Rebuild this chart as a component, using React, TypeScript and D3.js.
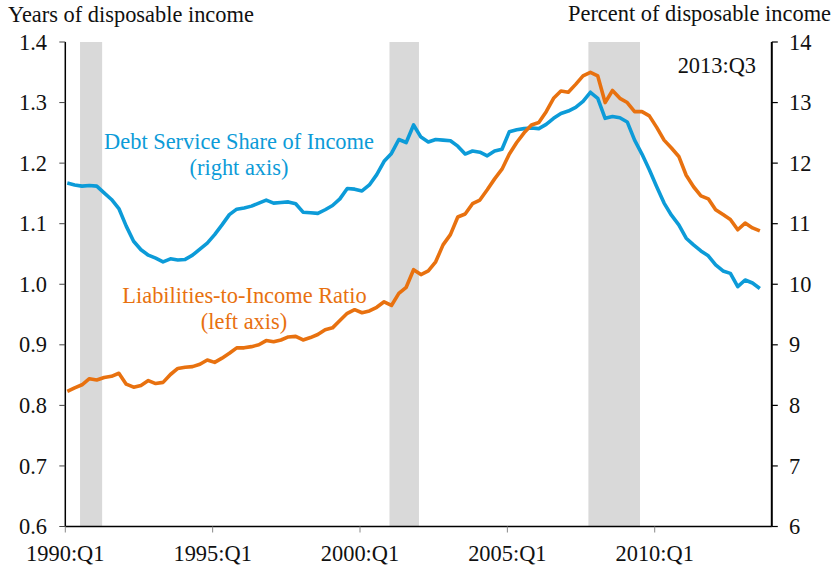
import React from "react";
import * as d3 from "d3";

// Quarterly data, 1990:Q1 .. 2013:Q3
const startYear = 1990;
const debtServiceShare = [
  11.67, 11.64, 11.62, 11.63, 11.62, 11.51, 11.40, 11.25, 10.96, 10.71,
  10.57, 10.48, 10.43, 10.37, 10.42, 10.40, 10.41, 10.48, 10.58, 10.68,
  10.82, 10.98, 11.15, 11.24, 11.26, 11.29, 11.34, 11.39, 11.34, 11.35,
  11.36, 11.33, 11.19, 11.18, 11.17, 11.23, 11.30, 11.41, 11.58, 11.57,
  11.54, 11.64, 11.81, 12.03, 12.16, 12.39, 12.34, 12.63, 12.43, 12.35,
  12.39, 12.38, 12.37, 12.28, 12.15, 12.20, 12.18, 12.12, 12.20, 12.23,
  12.52, 12.55, 12.57, 12.58, 12.57, 12.64, 12.74, 12.82, 12.86, 12.92,
  13.02, 13.17, 13.07, 12.74, 12.77, 12.75, 12.68, 12.38, 12.15, 11.89,
  11.61, 11.34, 11.14, 10.98, 10.76, 10.65, 10.55, 10.47, 10.32, 10.22,
  10.18, 9.96, 10.07, 10.02, 9.93,
];
const liabilitiesToIncome = [
  0.823, 0.829, 0.834, 0.844, 0.842, 0.846, 0.848, 0.853, 0.835, 0.830,
  0.833, 0.841, 0.836, 0.838, 0.851, 0.861, 0.863, 0.864, 0.868, 0.875,
  0.871, 0.878, 0.886, 0.895, 0.895, 0.897, 0.900, 0.907, 0.905, 0.908,
  0.913, 0.914, 0.908, 0.912, 0.917, 0.925, 0.928, 0.940, 0.952, 0.958,
  0.953, 0.956, 0.962, 0.971, 0.965, 0.985, 0.995, 1.024, 1.016, 1.022,
  1.037, 1.065, 1.082, 1.111, 1.116, 1.133, 1.139, 1.156, 1.174, 1.190,
  1.215, 1.234, 1.250, 1.263, 1.267, 1.285, 1.307, 1.319, 1.317, 1.330,
  1.344, 1.350, 1.344, 1.300, 1.320, 1.307, 1.300, 1.285, 1.285, 1.278,
  1.259, 1.238, 1.225, 1.211, 1.180, 1.161, 1.146, 1.141, 1.123, 1.115,
  1.107, 1.090, 1.101, 1.093, 1.088,
];
const xTickLabels = ["1990:Q1", "1995:Q1", "2000:Q1", "2005:Q1", "2010:Q1"];
const leftTicks = [0.6, 0.7, 0.8, 0.9, 1.0, 1.1, 1.2, 1.3, 1.4];
const rightTicks = [6, 7, 8, 9, 10, 11, 12, 13, 14];
const recessions = [
  ["1990:Q3", "1991:Q1"],
  ["2001:Q1", "2001:Q4"],
  ["2007:Q4", "2009:Q2"],
];
const lastLabel = "2013:Q3";

const qIndex = (s: string) => {
  const [y, q] = s.split(":Q");
  return (+y - startYear) * 4 + (+q - 1);
};

const BLUE = "#0c9bd8";
const ORANGE = "#e8710f";
const FONT = "'Liberation Serif', 'Times New Roman', serif";
const FS = 22.4;

export default function App() {
  const W = 834, H = 568;
  const left = 65.3, right = 772.6, top = 42, bottom = 526.5;
  const x = d3.scaleLinear().domain([0, 96]).range([left, right]);
  const yL = d3.scaleLinear().domain([0.6, 1.4]).range([bottom, top]);
  const yR = d3.scaleLinear().domain([6, 14]).range([bottom, top]);
  const off = 0.27;

  const lineR = d3
    .line<number>()
    .x((_, i) => x(i + off))
    .y((d) => yR(d));
  const lineL = d3
    .line<number>()
    .x((_, i) => x(i + off))
    .y((d) => yL(d));

  const axR = 771.8;

  return (
    <svg
      width={W}
      height={H}
      style={{ position: "absolute", left: 0, top: 0, background: "#fff" }}
      fontFamily={FONT}
    >
      <rect x={0} y={0} width={W} height={H} fill="#fff" />
      {recessions.map(([a, b], k) => (
        <rect
          key={k}
          x={x(qIndex(a))}
          y={top}
          width={x(qIndex(b) + 1) - x(qIndex(a))}
          height={bottom - top}
          fill="#d9d9d9"
        />
      ))}

      {/* left axis */}
      <line x1={left} x2={left} y1={top} y2={bottom} stroke="#000" strokeWidth={1.5} />
      {leftTicks.map((t) => (
        <g key={t}>
          <line x1={left - 6} x2={left} y1={yL(t)} y2={yL(t)} stroke="#444" strokeWidth={1} />
          <text x={47} y={yL(t)} dy="0.34em" textAnchor="end" fontSize={FS} fill="#111">
            {t.toFixed(1)}
          </text>
        </g>
      ))}

      {/* right axis */}
      <line x1={axR} x2={axR} y1={top} y2={bottom} stroke="#000" strokeWidth={2} />
      {rightTicks.map((t) => (
        <g key={t}>
          <line x1={axR} x2={axR + 6} y1={yR(t)} y2={yR(t)} stroke="#000" strokeWidth={1.2} />
          <text x={789} y={yR(t)} dy="0.34em" textAnchor="start" fontSize={FS} fill="#111">
            {t}
          </text>
        </g>
      ))}

      {/* bottom axis */}
      <line x1={left} x2={axR} y1={bottom} y2={bottom} stroke="#000" strokeWidth={1.5} />
      {xTickLabels.map((lab) => {
        const xi = x(qIndex(lab));
        return (
          <g key={lab}>
            <line x1={xi} x2={xi} y1={bottom} y2={bottom + 6} stroke="#888" strokeWidth={1} />
            <text x={xi} y={561} textAnchor="middle" fontSize={FS} fill="#111">
              {lab}
            </text>
          </g>
        );
      })}

      {/* series */}
      <path
        d={lineR(debtServiceShare) || ""}
        fill="none"
        stroke={BLUE}
        strokeWidth={3.6}
        strokeLinejoin="round"
      />
      <path
        d={lineL(liabilitiesToIncome) || ""}
        fill="none"
        stroke={ORANGE}
        strokeWidth={3.6}
        strokeLinejoin="round"
      />

      {/* titles */}
      <text x={8} y={22} fontSize={FS} fill="#111">
        Years of disposable income
      </text>
      <text x={568} y={21} fontSize={FS} fill="#111">
        Percent of disposable income
      </text>
      <text x={756} y={73} textAnchor="end" fontSize={FS} fill="#111">
        {lastLabel}
      </text>

      {/* series labels */}
      <text x={239} y={149} textAnchor="middle" fontSize={FS} fill={BLUE}>
        Debt Service Share of Income
      </text>
      <text x={239} y={175} textAnchor="middle" fontSize={FS} fill={BLUE}>
        (right axis)
      </text>
      <text x={244.5} y={303} textAnchor="middle" fontSize={FS} fill={ORANGE}>
        Liabilities-to-Income Ratio
      </text>
      <text x={244} y={329} textAnchor="middle" fontSize={FS} fill={ORANGE}>
        (left axis)
      </text>
    </svg>
  );
}
